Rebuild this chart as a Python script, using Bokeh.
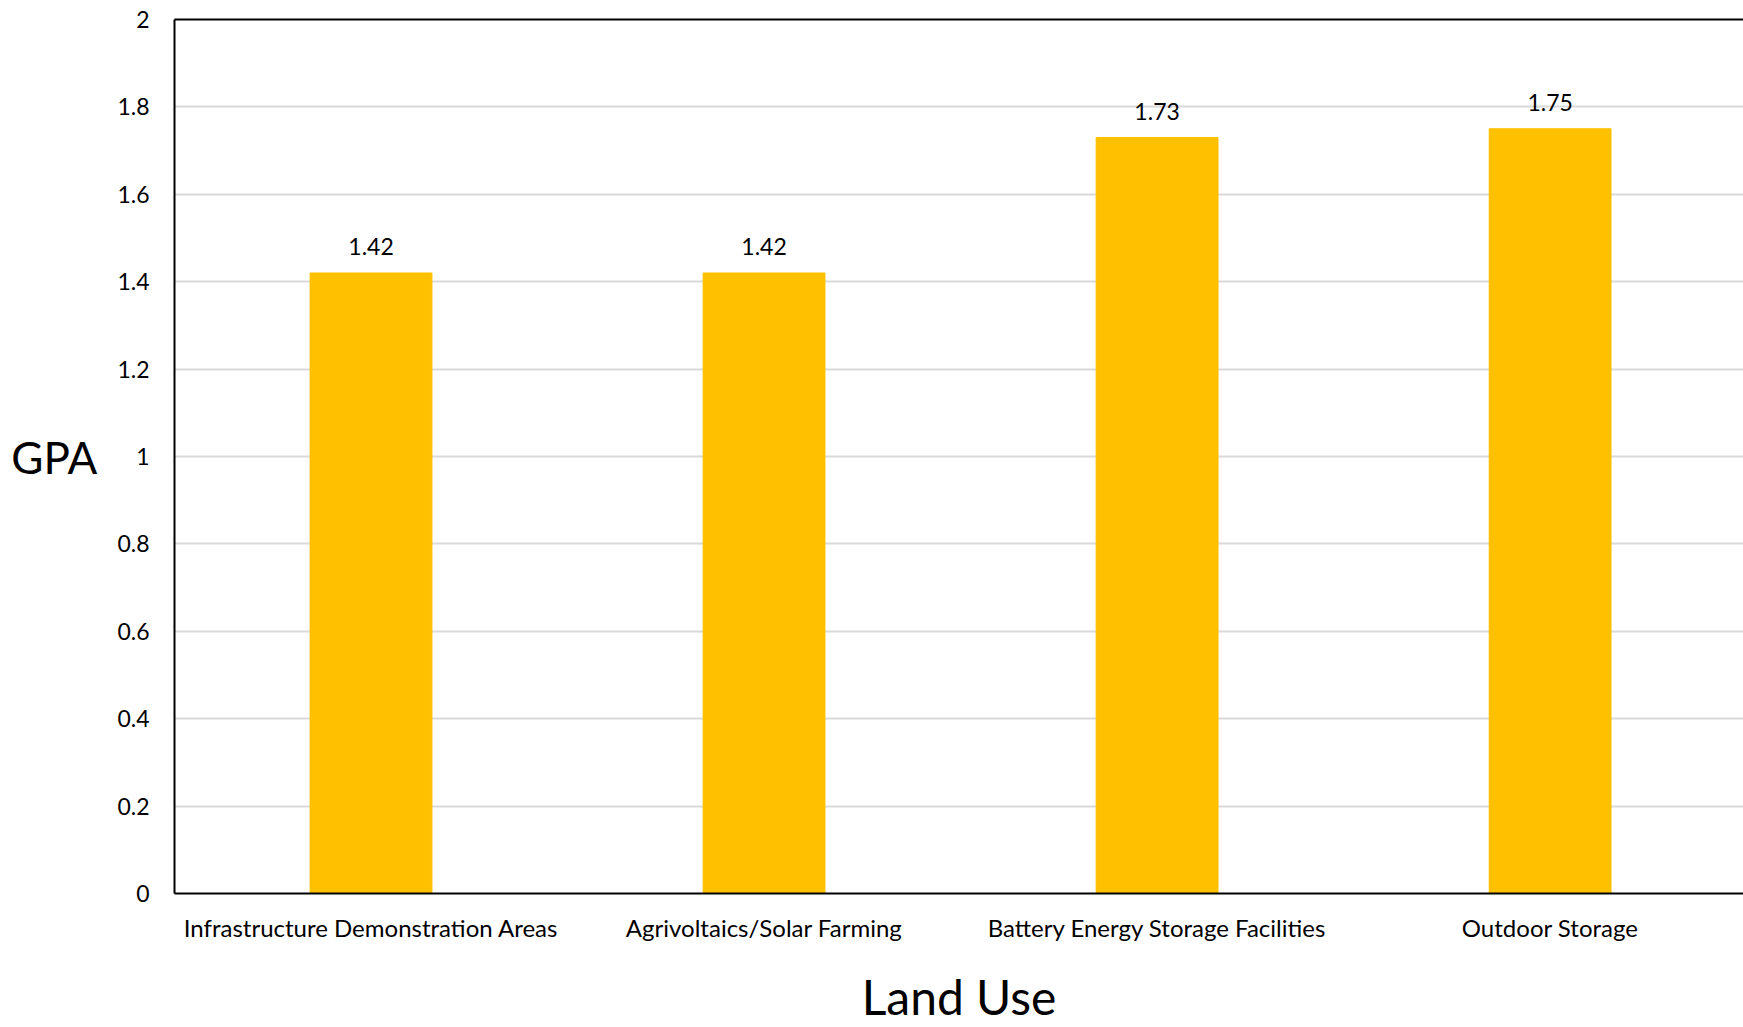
from bokeh.plotting import figure
from bokeh.models import ColumnDataSource, FixedTicker, LinearAxis, Range1d
from bokeh.embed import file_html
from bokeh.resources import INLINE
from bokeh.core.properties import value

categories = ["Infrastructure Demonstration Areas", "Agrivoltaics/Solar Farming",
              "Battery Energy Storage Facilities", "Outdoor Storage"]
gpa = [1.42, 1.42, 1.73, 1.75]
labels = ["1.42", "1.42", "1.73", "1.75"]
y_ticks = [0, 0.2, 0.4, 0.6, 0.8, 1, 1.2, 1.4, 1.6, 1.8, 2]

FONT = "Lato"
pos = list(range(len(categories)))
src = ColumnDataSource(dict(x=pos, top=gpa, lab=labels))

p = figure(width=1743, height=1027, output_backend="svg", toolbar_location=None,
           x_range=Range1d(-0.5, 3.492), y_range=Range1d(0, 2),
           min_border_left=174, min_border_right=0, min_border_top=19, min_border_bottom=134,
           background_fill_color="white", border_fill_color="white")
p.outline_line_color = None

p.vbar(x="x", top="top", bottom=0, width=0.31, source=src, color="#FFC000")
p.text(x="x", y="top", text="lab", source=src, text_align="center", text_baseline="middle",
       y_offset=-26, text_font=value(FONT), text_font_size="23px", text_color="black")

p.xgrid.grid_line_color = None
p.ygrid.grid_line_color = "#d9d9d9"
p.ygrid.grid_line_width = 2
p.yaxis.ticker = FixedTicker(ticks=y_ticks)
p.yaxis.major_label_overrides = {0: "0", 1: "1", 2: "2"}
p.xaxis.ticker = FixedTicker(ticks=pos)
p.xaxis.major_label_overrides = {i: c for i, c in enumerate(categories)}

for ax in (p.xaxis[0], p.yaxis[0]):
    ax.axis_line_color = "black"
    ax.axis_line_width = 2
    ax.major_tick_line_color = None
    ax.minor_tick_line_color = None
    ax.major_label_text_font = FONT
    ax.major_label_text_color = "black"
    ax.axis_label_text_font = FONT
    ax.axis_label_text_font_style = "normal"
    ax.axis_label_text_color = "black"

p.yaxis.major_label_text_font_size = "23px"
p.yaxis.major_label_standoff = 19
p.yaxis.axis_label = "GPA"
p.yaxis.axis_label_orientation = "horizontal"
p.yaxis.axis_label_standoff = 17
p.yaxis.axis_label_text_font_size = "44px"

p.xaxis.major_label_text_font_size = "24px"
p.xaxis.major_label_standoff = 13
p.xaxis.axis_label = "Land Use"
p.xaxis.axis_label_standoff = 23
p.xaxis.axis_label_text_font_size = "48px"

top_axis = LinearAxis(ticker=FixedTicker(ticks=[]), axis_line_color="black", axis_line_width=2,
                      major_tick_line_color=None, minor_tick_line_color=None,
                      major_label_standoff=0)
p.add_layout(top_axis, "above")

open("out.html", "w").write(file_html(p, INLINE))
